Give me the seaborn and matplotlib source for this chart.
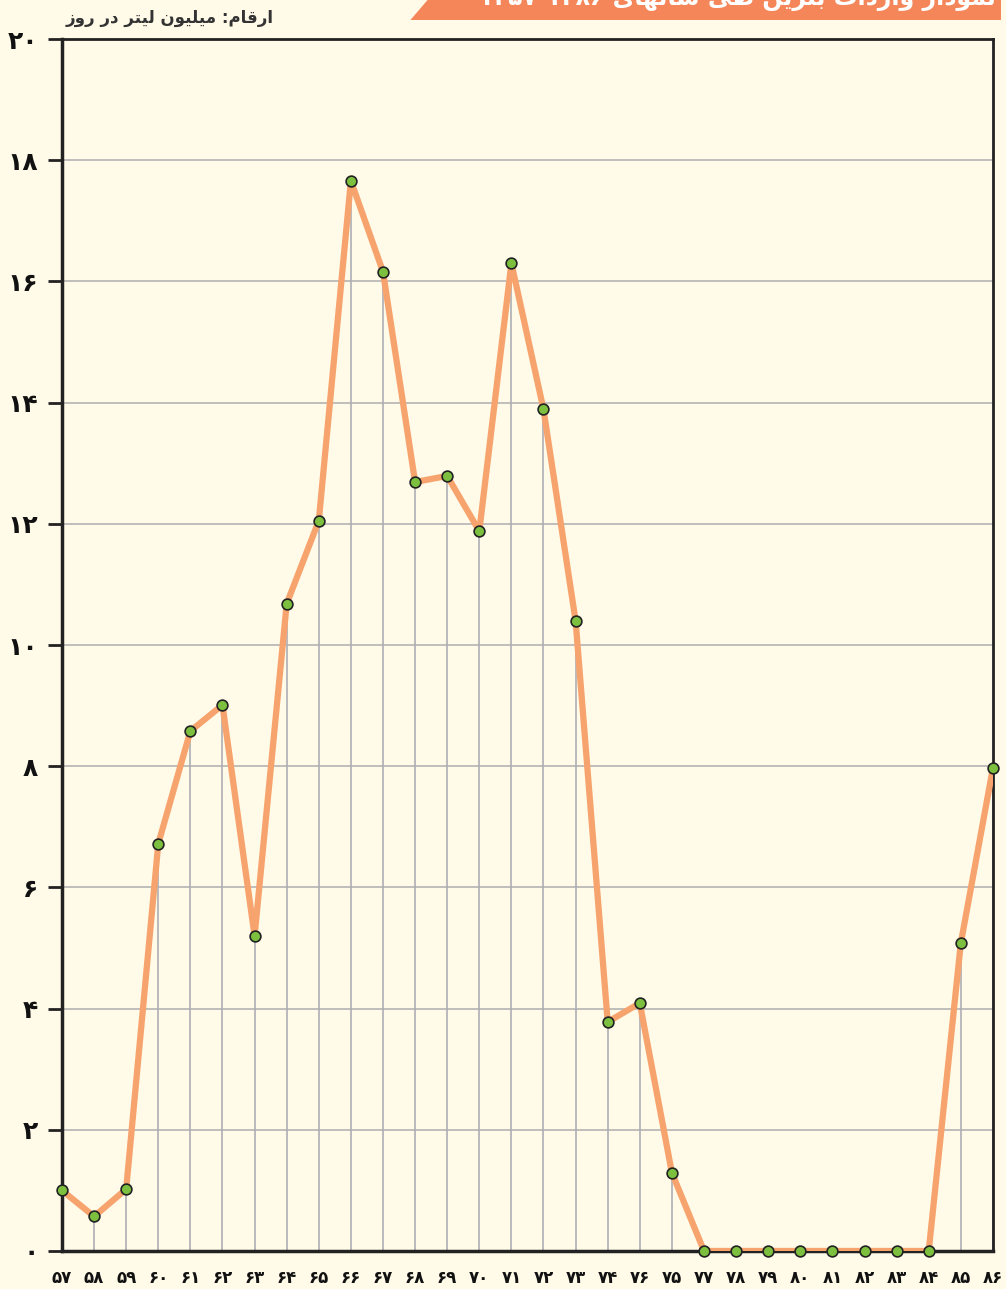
import matplotlib
matplotlib.use("Agg")
import matplotlib.pyplot as plt
import seaborn as sns
import numpy as np
import pandas as pd
from matplotlib.patches import Polygon

# data (million litres per day)
years = ["۵۷", "۵۸", "۵۹", "۶۰", "۶۱", "۶۲", "۶۳", "۶۴", "۶۵", "۶۶",
         "۶۷", "۶۸", "۶۹", "۷۰", "۷۱", "۷۲", "۷۳", "۷۴", "۷۶", "۷۵",
         "۷۷", "۷۸", "۷۹", "۸۰", "۸۱", "۸۲", "۸۳", "۸۴", "۸۵", "۸۶"]
values = [1.0, 0.57, 1.02, 6.72, 8.58, 9.01, 5.2, 10.68, 12.05, 17.66,
          16.16, 12.69, 12.79, 11.88, 16.3, 13.89, 10.4, 3.78, 4.09, 1.29,
          0, 0, 0, 0, 0, 0, 0, 0, 5.08, 7.97]
yticks = [0, 2, 4, 6, 8, 10, 12, 14, 16, 18, 20]
ytick_labels = ["۰", "۲", "۴", "۶", "۸", "۱۰", "۱۲", "۱۴", "۱۶", "۱۸", "۲۰"]
unit_label = "ارقام: میلیون لیتر در روز"
title = "نمودار واردات بنزین طی سالهای ۱۳۵۷-۱۳۸۶"

# --- tiny arabic shaper: (isolated, final, initial, medial) ---
FORMS = {
    "ا": (0xFE8D, 0xFE8E, None, None), "د": (0xFEA9, 0xFEAA, None, None),
    "ر": (0xFEAD, 0xFEAE, None, None), "ز": (0xFEAF, 0xFEB0, None, None),
    "و": (0xFEED, 0xFEEE, None, None),
    "ب": (0xFE8F, 0xFE90, 0xFE91, 0xFE92), "ت": (0xFE95, 0xFE96, 0xFE97, 0xFE98),
    "س": (0xFEB1, 0xFEB2, 0xFEB3, 0xFEB4), "ط": (0xFEC1, 0xFEC2, 0xFEC3, 0xFEC4),
    "ق": (0xFED5, 0xFED6, 0xFED7, 0xFED8), "ل": (0xFEDD, 0xFEDE, 0xFEDF, 0xFEE0),
    "م": (0xFEE1, 0xFEE2, 0xFEE3, 0xFEE4), "ن": (0xFEE5, 0xFEE6, 0xFEE7, 0xFEE8),
    "ه": (0xFEE9, 0xFEEA, 0xFEEB, 0xFEEC), "ی": (0xFEEF, 0xFEF0, 0xFEF3, 0xFEF4),
}


def shape(text):
    out = []
    for i, ch in enumerate(text):
        if ch not in FORMS:
            out.append(ch)
            continue
        prev = text[i - 1] if i > 0 else ""
        nxt = text[i + 1] if i + 1 < len(text) else ""
        joins_prev = prev in FORMS and FORMS[prev][2] is not None
        joins_next = nxt in FORMS and FORMS[ch][2] is not None
        iso, fin, ini, med = FORMS[ch]
        if joins_prev and joins_next:
            code = med
        elif joins_prev:
            code = fin
        elif joins_next:
            code = ini
        else:
            code = iso
        out.append(chr(code))
    s = "".join(out)[::-1]
    # put digit runs back in LTR order
    res, run = [], ""
    for ch in s:
        if "۰" <= ch <= "۹" or ch == "-":
            run += ch
        else:
            res.append(run[::-1]); run = ""
            res.append(ch)
    res.append(run[::-1])
    return "".join(res)


sns.set_style("white")
plt.rcParams["font.family"] = ["DejaVu Sans"]

bg = "#fffbe8"
df = pd.DataFrame({"x": np.arange(len(years)), "y": values})

fig = plt.figure(figsize=(10.06, 12.89), dpi=100, facecolor=bg)
ax = fig.add_axes([0.0616, 0.0295, 0.9254, 0.9402], facecolor=bg)

for yv in yticks[1:-1]:
    ax.axhline(yv, color="#b4b4b4", lw=1.2, zorder=1)
ax.vlines(df["x"], 0, df["y"], color="#aeaeb4", lw=1.2, zorder=1)

sns.lineplot(data=df, x="x", y="y", ax=ax, color="#f7a36e", lw=4.5, zorder=3)
ax.scatter(df["x"], df["y"], s=60, color="#7dbf3f", edgecolor="#222222",
           linewidth=1.2, zorder=4, clip_on=False)

ax.set_xlim(0, len(years) - 1)
ax.set_ylim(0, 20)
ax.set_yticks(yticks)
ax.set_yticklabels(ytick_labels, fontsize=18, fontweight="bold", color="#111111")
ax.set_xticks(df["x"])
ax.set_xticklabels(years, fontsize=12, fontweight="bold", color="#111111")
ax.tick_params(axis="y", length=10, width=2, color="#222222", pad=7, left=True)
ax.tick_params(axis="x", length=0, pad=13)
ax.set_xlabel("")
ax.set_ylabel("")

for side in ["left", "bottom"]:
    ax.spines[side].set_linewidth(2.5)
    ax.spines[side].set_color("#222222")
for side in ["top", "right"]:
    ax.spines[side].set_linewidth(2)
    ax.spines[side].set_color("#222222")

fig.text(0.065, 0.986, shape(unit_label), fontsize=12, fontweight="bold",
         color="#333333", ha="left", va="center")

banner = Polygon([(0.408, 0.9845), (0.425, 1.0), (0.995, 1.0), (0.995, 0.9845)],
                 closed=True, transform=fig.transFigure, facecolor="#f5865a",
                 edgecolor="none")
fig.patches.append(banner)
fig.text(0.99, 1.0005, shape(title), fontsize=17, fontweight="bold",
         color="white", ha="right", va="center")

fig.savefig("out.png", dpi=100, facecolor=bg)
